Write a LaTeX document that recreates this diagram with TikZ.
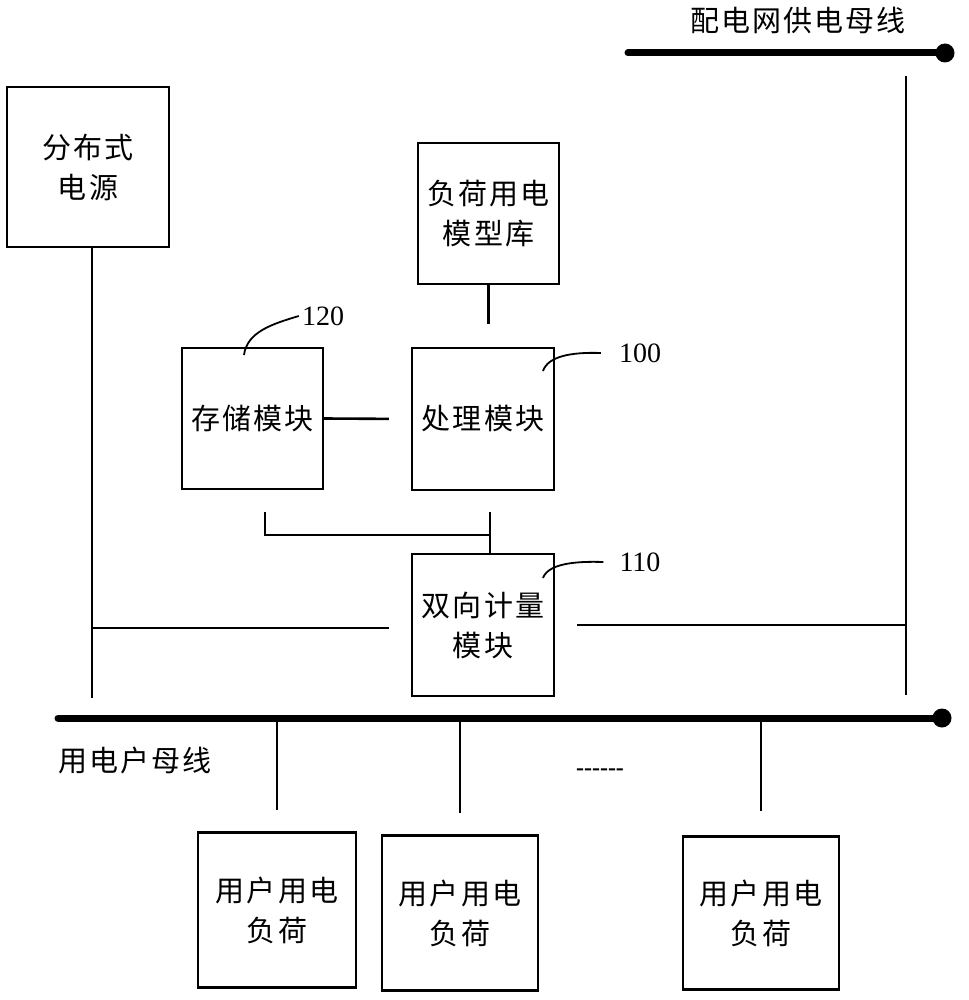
\documentclass[tikz,border=0pt]{standalone}
\usepackage{fontspec}
\newfontfamily\cjk[LetterSpace=7]{Noto Sans CJK SC}
\newfontfamily\numfont{Liberation Serif}
\begin{document}
\begin{tikzpicture}[x=1pt,y=-1pt,
  box/.style={draw,line width=2.4pt,align=center,inner sep=0pt,
    font=\cjk\fontsize{29}{40}\selectfont},
  wire/.style={line width=2.6pt},
  bus/.style={line width=7pt,line cap=round},
  lead/.style={line width=1.8pt},
  num/.style={font=\numfont\fontsize{28}{32}\selectfont,inner sep=0pt},
  lbl/.style={font=\cjk\fontsize{29}{34}\selectfont,inner sep=0pt}]
\useasboundingbox (0,0) rectangle (968,1000);

% boxes
\node[box,minimum width=162pt,minimum height=160pt] (dg) at (88,167) {分布式\\电源};
\node[box,minimum width=141pt,minimum height=141pt] (lib) at (488.5,213.5) {负荷用电\\模型库};
\node[box,minimum width=141pt,minimum height=141pt] (store) at (252.5,418.5) {存储模块};
\node[box,minimum width=142pt,minimum height=142pt] (proc) at (483,419) {处理模块};
\node[box,minimum width=142pt,minimum height=142pt] (meter) at (483,625) {双向计量\\模块};
\node[box,minimum width=158pt,minimum height=155pt] (u1) at (277,910) {用户用电\\负荷};
\node[box,minimum width=156pt,minimum height=155pt] (u2) at (460,913) {用户用电\\负荷};
\node[box,minimum width=156pt,minimum height=153pt] (u3) at (761,913) {用户用电\\负荷};

% labels
\node[lbl] (topbus) at (798,20) {配电网供电母线};
\node[lbl,anchor=west] (botbus) at (58,760) {用电户母线};
\node[num,font=\numfont\fontsize{24}{26}\selectfont\bfseries] (dots) at (600,772) {-{}-{}-{}-{}-{}-};
\node[num] (n120) at (323,316) {120};
\node[num] (n100) at (640,353) {100};
\node[num] (n110) at (640,562) {110};

% coordinates
\coordinate (tbL) at (628,53);
\coordinate (tbR) at (945,53);
\coordinate (bbL) at (58,718);
\coordinate (bbR) at (942,718);
\coordinate (rv1) at (906,76);
\coordinate (rv2) at (906,695);
\coordinate (lv1) at (92,247);
\coordinate (lv2) at (92,698);
\coordinate (lj) at (92,628);
\coordinate (rj) at (906,625);
\coordinate (bl) at (265,512);
\coordinate (bj) at (490,535);
\coordinate (br) at (490,512);
\coordinate (c120) at (244,355);
\coordinate (c100) at (543,371);
\coordinate (c110) at (543,578);

% buses
\draw[bus] (tbL) -- (tbR);
\fill (tbR) circle (9.5pt);
\draw[bus] (bbL) -- (bbR);
\fill (bbR) circle (9.5pt);

% wires
\draw[wire] (rv1) -- (rv2);
\draw[wire] (lv1) -- (lv2);
\draw[wire,shorten >=22pt] (lj) -- (meter.west |- lj);
\draw[wire,shorten <=22pt] (meter.east |- rj) -- (rj);
\draw[wire,shorten >=23pt] (lib.south) -- (lib.south |- proc.north);
\draw[wire,shorten >=22pt] (store.east) -- (proc.west);
\draw[wire] (bl) |- (bj);
\draw[wire] (br) -- (br |- meter.north);
\draw[wire,shorten >=21pt] (u1 |- bbL) -- (u1.north);
\draw[wire,shorten >=21pt] (u2 |- bbL) -- (u2.north);
\draw[wire,shorten >=24pt] (u3 |- bbL) -- (u3.north);

% leaders
\draw[lead] (c120) .. controls (247,332) and (272,324) .. ([xshift=-3pt]n120.west);
\draw[lead] (c100) .. controls (548,356) and (572,352) .. ([xshift=-18pt]n100.west);
\draw[lead] (c110) .. controls (548,564) and (574,561) .. ([xshift=-16pt]n110.west);
\end{tikzpicture}
\end{document}
